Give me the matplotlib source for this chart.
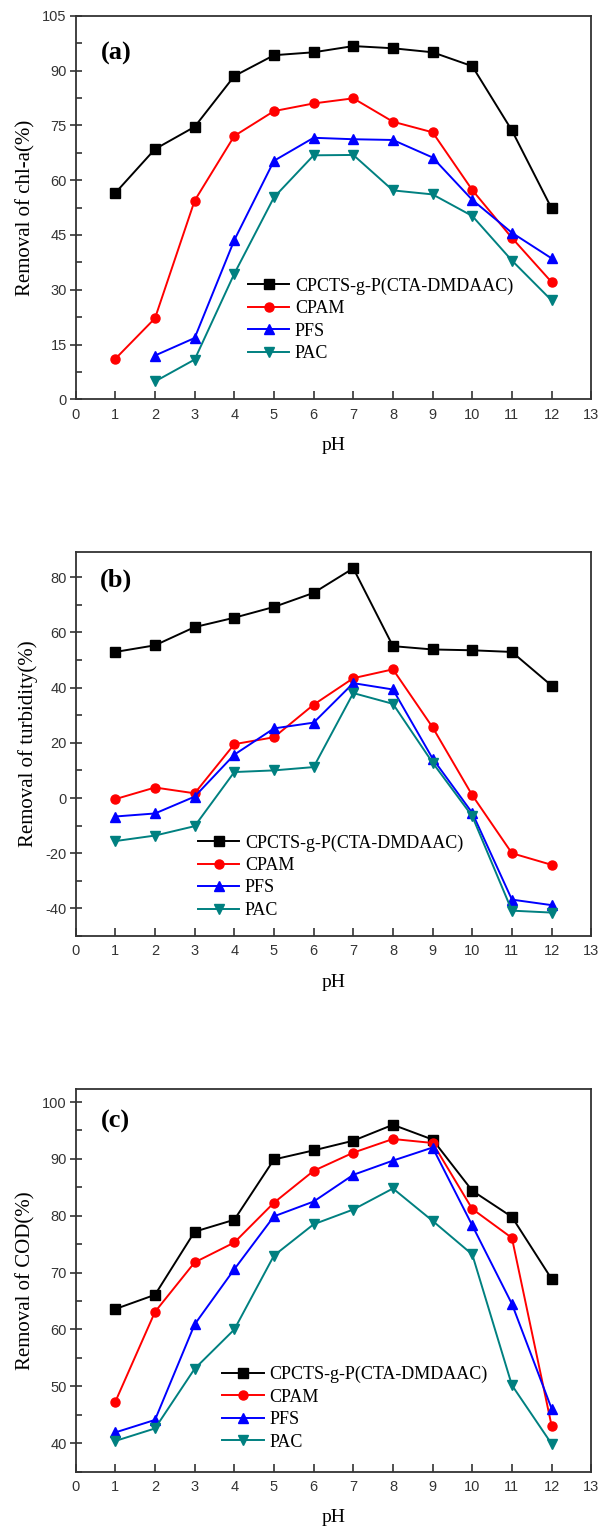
#!/usr/bin/env python3
"""pH 依存の除去率 3 パネル (chl-a / turbidity / COD)。"""
import matplotlib
matplotlib.use('Agg')
import matplotlib.pyplot as plt
from matplotlib.ticker import MultipleLocator

PH = [1, 2, 3, 4, 5, 6, 7, 8, 9, 10, 11, 12]
PH_PFS_A = PH[1:]           # (a) の PFS / PAC は pH2 から
NAMES = ['CPCTS-g-P(CTA-DMDAAC)', 'CPAM', 'PFS', 'PAC']

# (a) chl-a
CHL_CPCTS = [56.5, 68.5, 74.6, 88.5, 94.2, 95.0, 96.7, 96.1, 95.0, 91.2, 73.6, 52.3]
CHL_CPAM = [11.1, 22.2, 54.4, 72.1, 78.9, 81.0, 82.4, 76.0, 73.1, 57.3, 44.2, 32.1]
CHL_PFS = [12.0, 16.8, 43.6, 65.3, 71.6, 71.2, 71.0, 66.2, 54.6, 45.6, 38.6]
CHL_PAC = [4.9, 10.9, 34.4, 55.3, 66.8, 66.9, 57.2, 56.1, 50.2, 38.0, 27.1]

# (b) turbidity
TUR_CPCTS = [52.9, 55.3, 61.9, 65.3, 69.2, 74.3, 83.2, 55.0, 53.8, 53.5, 52.9, 40.7]
TUR_CPAM = [-0.4, 3.8, 1.7, 19.5, 22.0, 33.8, 43.4, 46.6, 25.6, 1.0, -20.0, -24.2]
TUR_PFS = [-6.7, -5.6, 0.5, 15.7, 25.2, 27.3, 41.6, 39.3, 14.3, -5.4, -36.8, -38.8]
TUR_PAC = [-15.6, -13.6, -10.2, 9.4, 10.0, 11.2, 38.0, 34.1, 12.8, -6.6, -40.8, -41.5]

# (c) COD
COD_CPCTS = [63.6, 66.1, 77.2, 79.3, 89.9, 91.5, 93.2, 96.0, 93.4, 84.4, 79.8, 68.9]
COD_CPAM = [47.3, 63.1, 71.8, 75.3, 82.3, 87.9, 91.1, 93.5, 92.8, 81.2, 76.1, 43.1]
COD_PFS = [41.9, 44.1, 60.9, 70.6, 79.9, 82.5, 87.2, 89.7, 92.0, 78.3, 64.5, 46.1]
COD_PAC = [40.4, 42.6, 53.1, 60.0, 73.0, 78.5, 81.1, 84.8, 79.1, 73.2, 50.2, 39.9]

STYLE = [('black', 's'), ('#ff0000', 'o'), ('#0000ff', '^'), ('#008080', 'v')]
SERIF = ['Liberation Serif', 'DejaVu Serif']
SANS = ['Liberation Sans', 'DejaVu Sans']
AXC = '#333333'

plt.rcParams['axes.unicode_minus'] = False


def panel(ax, series, ylabel, tag, ylim, major, minor, leg_xy, tag_y):
    for (x, y), name, (c, m) in zip(series, NAMES, STYLE):
        ax.plot(x, y, color=c, marker=m, ms=6.5, lw=1.4, label=name)
    ax.set_xlim(0, 13)
    ax.set_ylim(*ylim)
    ax.xaxis.set_major_locator(MultipleLocator(1))
    ax.yaxis.set_major_locator(MultipleLocator(major))
    ax.yaxis.set_minor_locator(MultipleLocator(minor))
    ax.tick_params(axis='x', which='major', direction='in', length=6, width=1.2,
                   color=AXC, labelcolor=AXC, pad=6, labelsize=10.5,
                   top=False)
    ax.tick_params(axis='y', which='major', direction='inout', length=9, width=1.2,
                   color=AXC, labelcolor=AXC, pad=2, labelsize=10.5, right=False)
    ax.tick_params(axis='y', which='minor', direction='in', length=4, width=1.2,
                   color=AXC, right=False)
    for lab in ax.get_xticklabels() + ax.get_yticklabels():
        lab.set_family(SANS)
    for s in ax.spines.values():
        s.set_color(AXC)
        s.set_linewidth(1.3)
    ax.set_xlabel('pH', family=SERIF, fontsize=14, labelpad=11)
    ax.set_ylabel(ylabel, family=SERIF, fontsize=15, labelpad=5)
    ax.text(0.078, tag_y, tag, transform=ax.transAxes, ha='center', va='center',
            family=SERIF, fontsize=19, fontweight='bold')
    ax.legend(loc='upper left', bbox_to_anchor=leg_xy, frameon=False,
              borderaxespad=0, borderpad=0, numpoints=1, handlelength=2.3,
              handletextpad=0.3, labelspacing=0.3,
              prop={'family': SERIF, 'size': 13})


def main():
    fig = plt.figure(figsize=(6.03, 15.29), dpi=100, facecolor='white')
    axA = fig.add_axes([0.1255, 0.7388, 0.855, 0.2509])
    axB = fig.add_axes([0.1255, 0.3878, 0.855, 0.2510])
    axC = fig.add_axes([0.1255, 0.0375, 0.855, 0.2503])

    panel(axA, [(PH, CHL_CPCTS), (PH, CHL_CPAM), (PH_PFS_A, CHL_PFS), (PH_PFS_A, CHL_PAC)],
          'Removal of chl-a(%)', '(a)', (0, 105), 15, 7.5, (0.334, 0.318), 0.903)
    panel(axB, [(PH, TUR_CPCTS), (PH, TUR_CPAM), (PH, TUR_PFS), (PH, TUR_PAC)],
          'Removal of turbidity(%)', '(b)', (-50, 89), 20, 10, (0.237, 0.265), 0.928)
    panel(axC, [(PH, COD_CPCTS), (PH, COD_CPAM), (PH, COD_PFS), (PH, COD_PAC)],
          'Removal of COD(%)', '(c)', (35, 102.3), 10, 5, (0.284, 0.276), 0.914)

    fig.savefig('out.png', dpi=100, facecolor=fig.get_facecolor())


if __name__ == '__main__':
    main()
